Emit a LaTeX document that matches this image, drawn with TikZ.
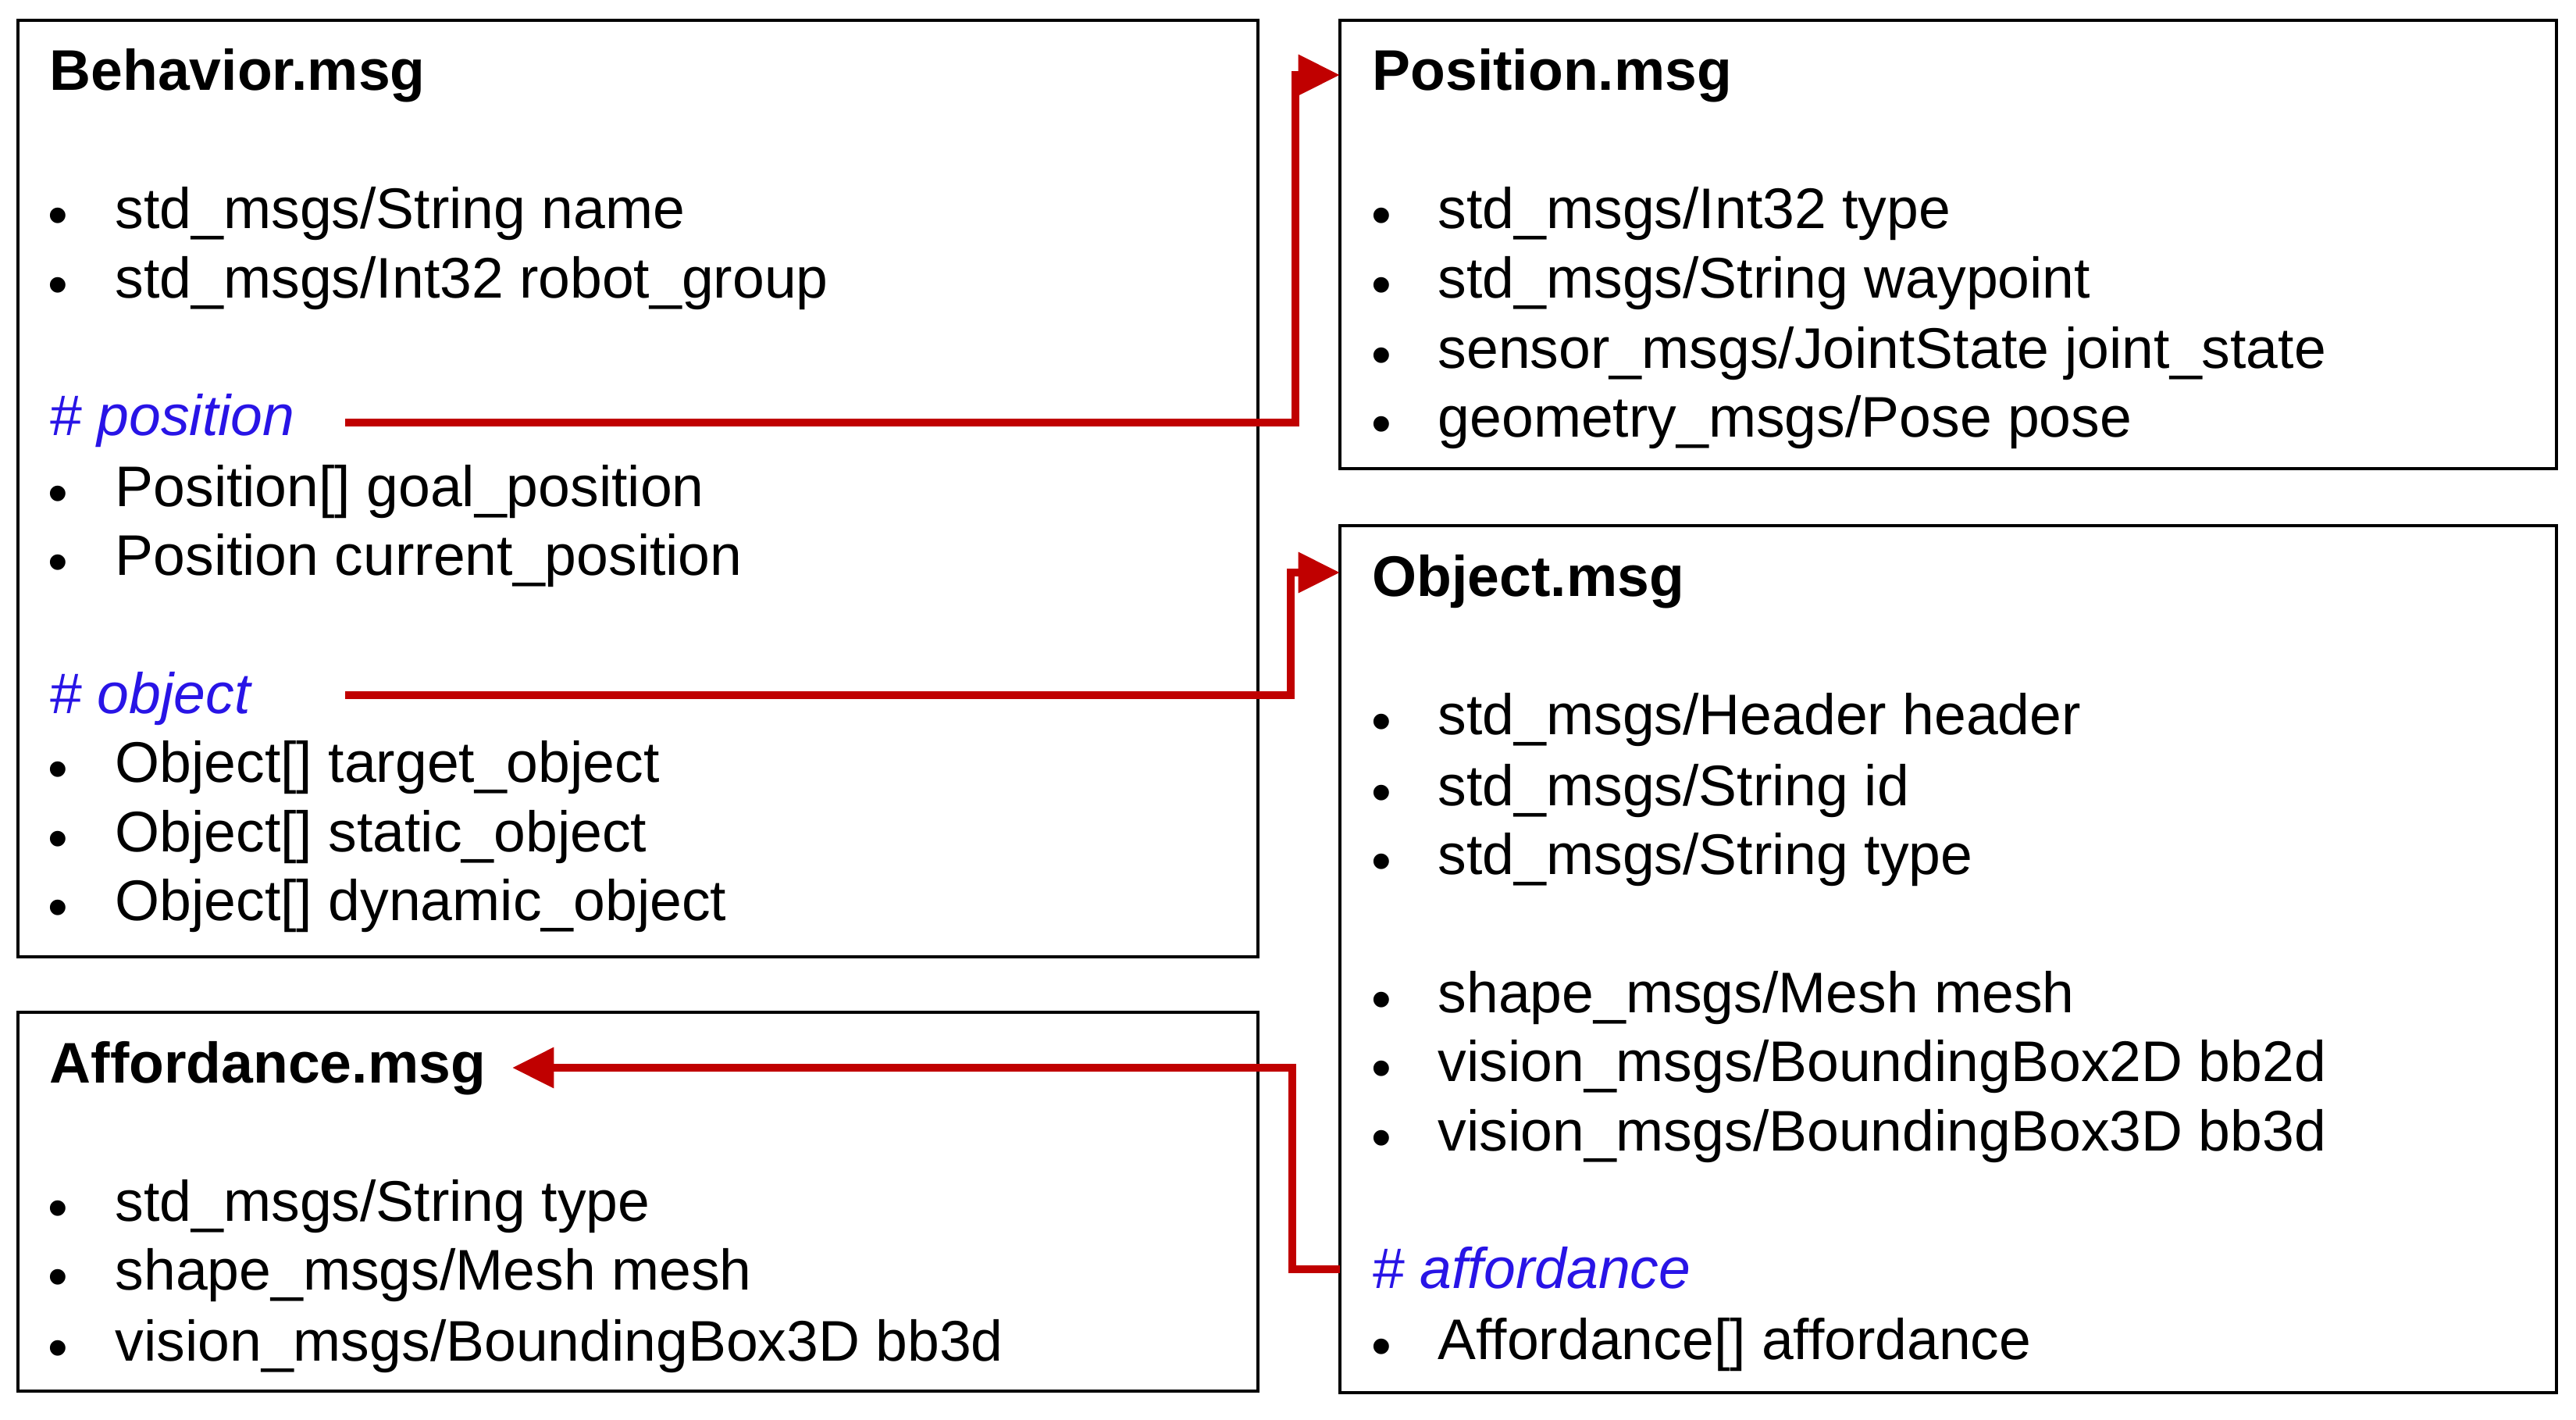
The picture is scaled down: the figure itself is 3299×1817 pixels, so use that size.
\documentclass[tikz,border=0pt]{standalone}
\usepackage{fontspec}
\setmainfont{Liberation Sans}
\usetikzlibrary{arrows.meta}
\definecolor{lred}{RGB}{192,0,0}
\definecolor{lblue}{RGB}{40,20,230}
\begin{document}
\begin{tikzpicture}[x=0.3pt,y=-0.3pt,
  box/.style={draw=black,line width=1.2pt},
  t/.style={anchor=west,inner sep=0pt,font=\fontsize{22}{26}\selectfont,text height=0.72em,text depth=0.2em,yshift=-5pt},
  ttl/.style={t,font=\fontsize{22}{26}\selectfont\bfseries},
  hd/.style={t,font=\fontsize{22}{26}\selectfont\itshape,text=lblue},
  bl/.style={anchor=center,inner sep=0pt,font=\fontsize{22}{26}\selectfont,yshift=-5pt},
  conn/.style={draw=lred,line width=3pt,-{Triangle[length=16pt,width=15pt]}}]
\useasboundingbox (0,0) rectangle (3299,1817);
% boxes
\draw[box] (23,26) rectangle (1611,1225);
\draw[box] (1716,26) rectangle (3274,600);
\draw[box] (1716,673) rectangle (3274,1783);
\draw[box] (23,1296) rectangle (1611,1781);
% Behavior
\node[ttl] (beh) at (63,90) {Behavior.msg};
\foreach \y/\s in {267/{std\_msgs/String name},356/{std\_msgs/Int32 robot\_group},623/{Position[] goal\_position},711/{Position current\_position},976/{Object[] target\_object},1065/{Object[] static\_object},1153/{Object[] dynamic\_object}}{
  \node[bl] at (74,\y) {•}; \node[t] at (147,\y) {\s};}
\node[hd] (poslab) at (63,532) {\# position};
\node[hd] (objlab) at (63,888) {\# object};
% Position
\node[ttl] (pos) at (1757,90) {Position.msg};
\foreach \y/\s in {267/{std\_msgs/Int32 type},356/{std\_msgs/String waypoint},446/{sensor\_msgs/JointState joint\_state},534/{geometry\_msgs/Pose pose}}{
  \node[bl] at (1769,\y) {•}; \node[t] at (1841,\y) {\s};}
% Object
\node[ttl] (obj) at (1757,738) {Object.msg};
\foreach \y/\s in {915/{std\_msgs/Header header},1006/{std\_msgs/String id},1094/{std\_msgs/String type},1271/{shape\_msgs/Mesh mesh},1359/{vision\_msgs/BoundingBox2D bb2d},1448/{vision\_msgs/BoundingBox3D bb3d},1715/{Affordance[] affordance}}{
  \node[bl] at (1769,\y) {•}; \node[t] at (1841,\y) {\s};}
\node[hd] (afflab) at (1757,1624) {\# affordance};
% Affordance
\node[ttl] (aff) at (63,1361) {Affordance.msg};
\foreach \y/\s in {1538/{std\_msgs/String type},1626/{shape\_msgs/Mesh mesh},1717/{vision\_msgs/BoundingBox3D bb3d}}{
  \node[bl] at (74,\y) {•}; \node[t] at (147,\y) {\s};}
% connectors
\coordinate (p0) at (442,541); \coordinate (p1) at (1659,541); \coordinate (p2) at (1659,96); \coordinate (p3) at (1716,96);
\draw[conn] (p0) -- (p1) -- (p2) -- (p3);
\coordinate (o0) at (442,890); \coordinate (o1) at (1653,890); \coordinate (o2) at (1653,733); \coordinate (o3) at (1716,733);
\draw[conn] (o0) -- (o1) -- (o2) -- (o3);
\coordinate (a0) at (1716,1625); \coordinate (a1) at (1655,1625); \coordinate (a2) at (1655,1367); \coordinate (a3) at (656,1367);
\draw[conn] (a0) -- (a1) -- (a2) -- (a3);
\end{tikzpicture}
\end{document}
